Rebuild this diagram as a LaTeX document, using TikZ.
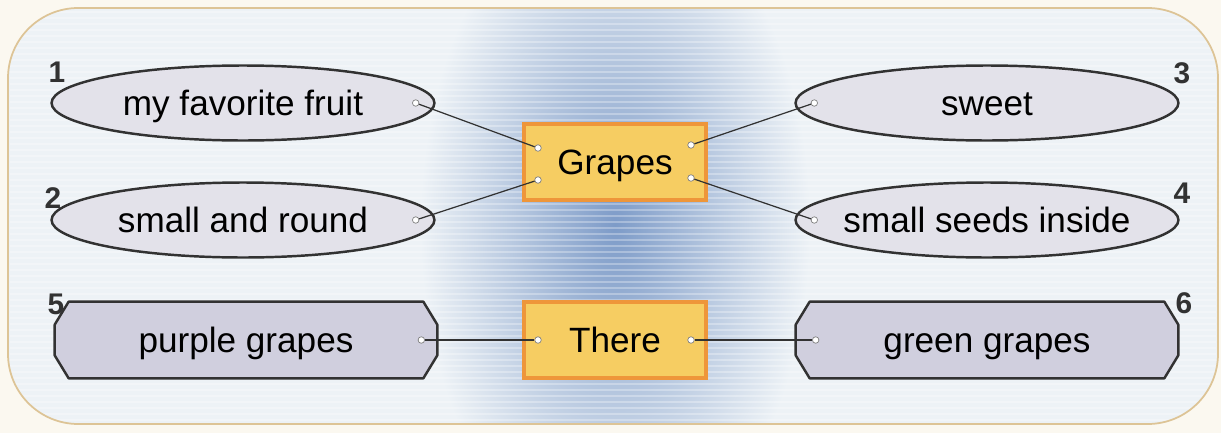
\documentclass[tikz,border=0pt]{standalone}
\usepackage{fontspec}
\setmainfont{Liberation Sans}
\usepackage{tikz}
\usetikzlibrary{shapes.geometric}
\usetikzlibrary{calc,positioning}
\pgfdeclarelayer{hinten}
\pgfdeclarelayer{mitte}
\pgfsetlayers{hinten,mitte,main}
\definecolor{papier}{RGB}{251,248,240}
\definecolor{rahmen}{RGB}{221,196,150}
\definecolor{grund}{RGB}{237,242,246}
\definecolor{glanz}{RGB}{125,155,200}
\definecolor{blase}{RGB}{227,226,234}
\definecolor{kachel}{RGB}{208,207,222}
\definecolor{gold}{RGB}{246,205,98}
\definecolor{orange-rand}{RGB}{238,150,58}
\definecolor{strich}{RGB}{50,50,50}
\tikzset{
  schrift/.style={font=\fontsize{20}{24}\selectfont, text height=16pt, text depth=2pt},
  blasenfeld/.style={schrift, ellipse, draw=strich, line width=1.4pt, fill=blase, minimum width=7.66cm, minimum height=1.5cm, inner xsep=-0.8cm, inner ysep=0pt},
  kachelfeld/.style={schrift, rectangle, minimum width=7.64cm, minimum height=1.52cm, inner sep=0pt},
  kachelrand/.style={draw=strich, line width=1.4pt, fill=kachel, line join=round},
  kern/.style={schrift, draw=orange-rand, line width=2.3pt, fill=gold, minimum width=3.64cm, minimum height=1.52cm, inner sep=0pt},
  punkt/.style={circle, draw=gray, fill=white, line width=0.4pt, minimum size=0.13cm, inner sep=0pt},
  nummer/.style={font=\fontsize{17}{19}\selectfont\bfseries, text=strich, inner sep=0pt},
  verbinder/.style={strich, line width=0.7pt},
}

\begin{document}
\begin{tikzpicture}[x=0.02cm, y=-0.02cm]

    \useasboundingbox (0,0) rectangle (1221,433);

    % Rahmen mit Glanz in der Mitte
    \begin{pgfonlayer}{hinten}
      \fill[papier] (0,0) rectangle (1221,433);
      \fill[grund, rounded corners=40] (8,8) rectangle (1218,424);
      \begin{scope}
        \clip[rounded corners=40] (8,8) rectangle (1218,424);
        \shade[inner color=glanz, outer color=grund] (420,-110) rectangle (810,560);
        \foreach \y in {12,18,...,420}
          \draw[white, opacity=0.3, line width=0.8pt] (10,\y) -- (1216,\y);
      \end{scope}
      \draw[rahmen, line width=1pt, rounded corners=40] (8,8) rectangle (1218,424);
    \end{pgfonlayer}

    % Felder
    \node[blasenfeld] (obst) at (243,103) {my favorite fruit};
    \node[blasenfeld] (rund) at (243,220) {small and round};
    \node[blasenfeld] (suess) at (987,103) {sweet};
    \node[blasenfeld] (kerne) at (987,220) {small seeds inside};
    \node[kachelfeld] (lila) at (246,340) {purple grapes};
    \node[kachelfeld] (gruen) at (987,340) {green grapes};
    \node[kern] (trauben) at (615,162) {Grapes};
    \node[kern] (dort) at (615,340) {There};

    \begin{pgfonlayer}{mitte}
      \foreach \k in {lila,gruen}
        \filldraw[kachelrand] ([xshift=0.28cm]\k.north west) -- ([xshift=-0.28cm]\k.north east)
          -- ([yshift=-0.46cm]\k.north east) -- ([yshift=0.46cm]\k.south east)
          -- ([xshift=-0.28cm]\k.south east) -- ([xshift=0.28cm]\k.south west)
          -- ([yshift=0.46cm]\k.south west) -- ([yshift=-0.46cm]\k.north west) -- cycle;
    \end{pgfonlayer}

    \node[nummer] (n1) at (57,72) {1};
    \node[nummer] (n2) at (53,198) {2};
    \node[nummer] (n5) at (56,304) {5};
    \node[nummer] (n3) at (1182,73) {3};
    \node[nummer] (n4) at (1182,193) {4};
    \node[nummer] (n6) at (1184,303) {6};

    % Punkte
    \node[punkt] (p1) at ([xshift=-0.4cm]obst.east) {};
    \node[punkt] (p2) at ([xshift=-0.4cm]rund.east) {};
    \node[punkt] (p3) at ([xshift=0.4cm]suess.west) {};
    \node[punkt] (p4) at ([xshift=0.4cm]kerne.west) {};
    \node[punkt] (p5) at ([xshift=-0.32cm]lila.east) {};
    \node[punkt] (p6) at ([xshift=0.4cm]gruen.west) {};
    \node[punkt] (t1) at ([xshift=0.32cm, yshift=0.28cm]trauben.west) {};
    \node[punkt] (t2) at ([xshift=0.32cm, yshift=-0.36cm]trauben.west) {};
    \node[punkt] (t3) at ([xshift=-0.34cm, yshift=0.34cm]trauben.east) {};
    \node[punkt] (t4) at ([xshift=-0.34cm, yshift=-0.32cm]trauben.east) {};
    \node[punkt] (d1) at ([xshift=0.32cm]dort.west) {};
    \node[punkt] (d2) at ([xshift=-0.34cm]dort.east) {};

    \draw[verbinder] (p1) -- (t1);
    \draw[verbinder] (p2) -- (t2);
    \draw[verbinder] (p3) -- (t3);
    \draw[verbinder] (p4) -- (t4);
    \draw[verbinder] (p5) -- (d1);
    \draw[verbinder] (d2) -- (p6);

\end{tikzpicture}
\end{document}
